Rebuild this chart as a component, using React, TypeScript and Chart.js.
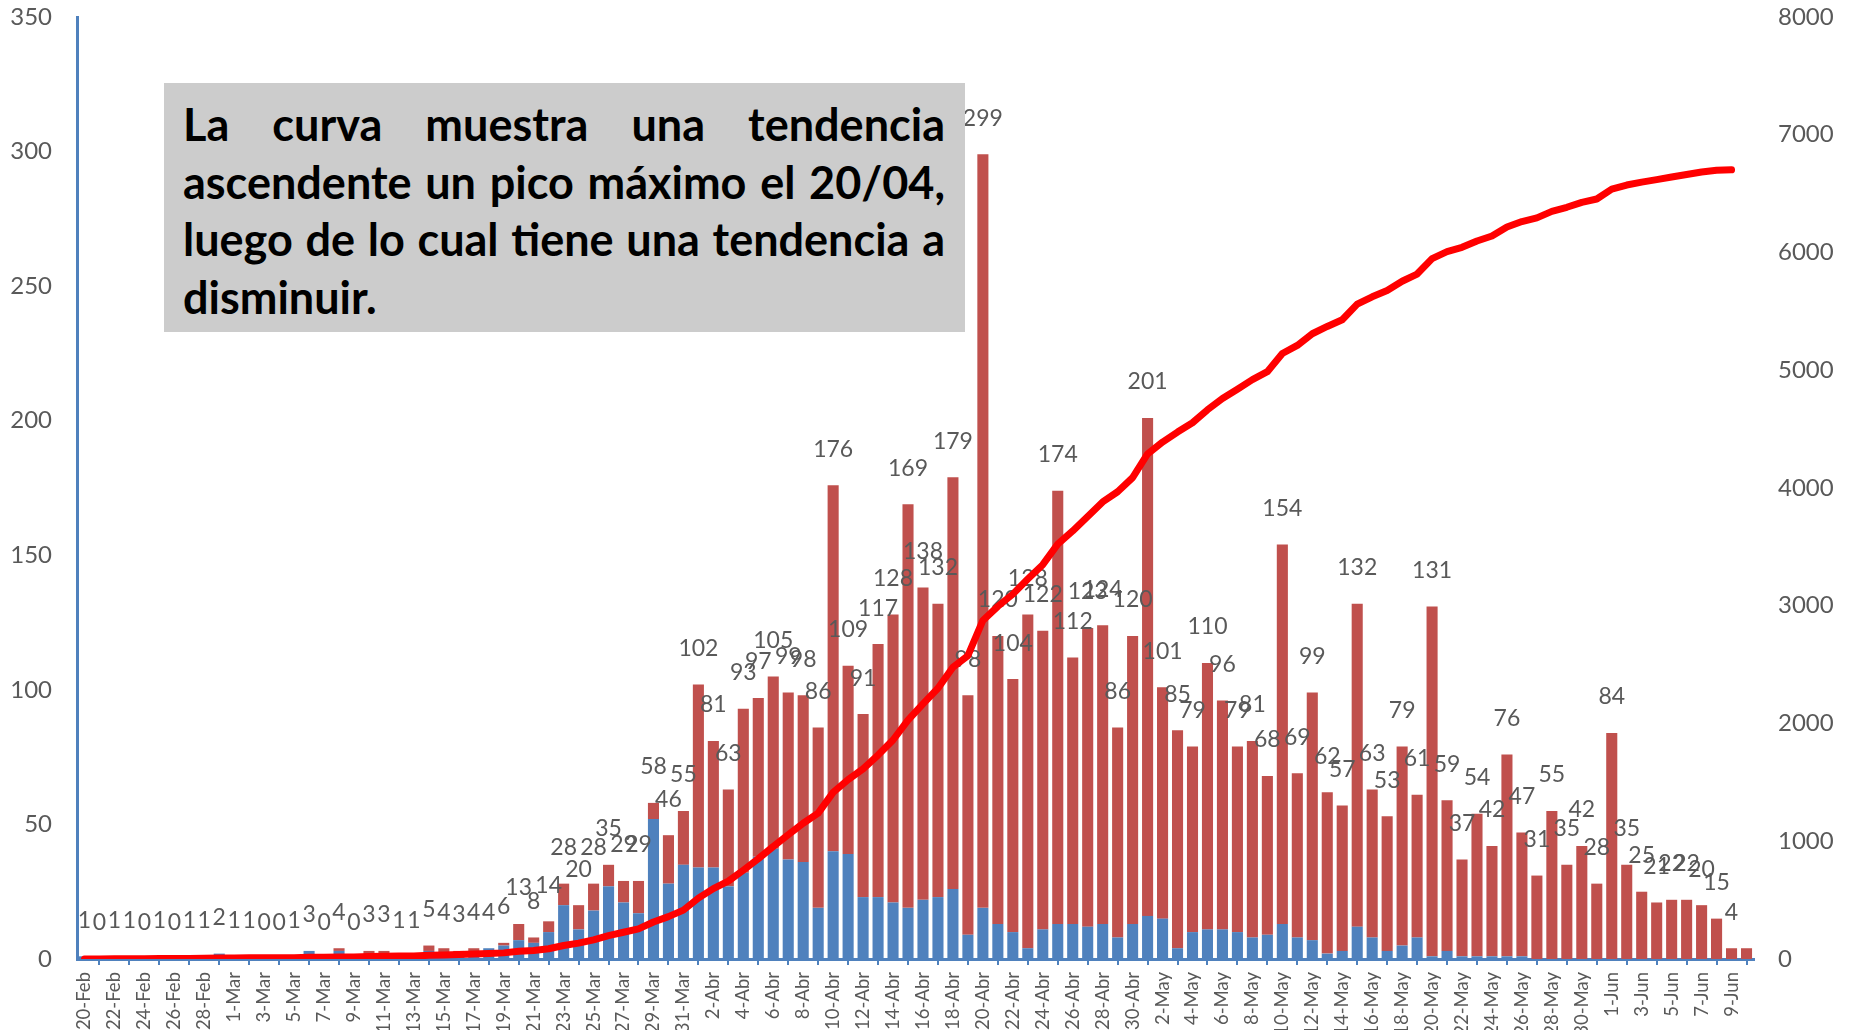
import React, { useEffect, useRef } from "react";
import { Chart, registerables } from "chart.js";

Chart.register(...registerables);

const categories = [
  "20-Feb","21-Feb","22-Feb","23-Feb","24-Feb","25-Feb","26-Feb","27-Feb","28-Feb","29-Feb",
  "1-Mar","2-Mar","3-Mar","4-Mar","5-Mar","6-Mar","7-Mar","8-Mar","9-Mar","10-Mar",
  "11-Mar","12-Mar","13-Mar","14-Mar","15-Mar","16-Mar","17-Mar","18-Mar","19-Mar","20-Mar",
  "21-Mar","22-Mar","23-Mar","24-Mar","25-Mar","26-Mar","27-Mar","28-Mar","29-Mar","30-Mar","31-Mar",
  "1-Abr","2-Abr","3-Abr","4-Abr","5-Abr","6-Abr","7-Abr","8-Abr","9-Abr","10-Abr",
  "11-Abr","12-Abr","13-Abr","14-Abr","15-Abr","16-Abr","17-Abr","18-Abr","19-Abr","20-Abr",
  "21-Abr","22-Abr","23-Abr","24-Abr","25-Abr","26-Abr","27-Abr","28-Abr","29-Abr","30-Abr",
  "1-May","2-May","3-May","4-May","5-May","6-May","7-May","8-May","9-May","10-May",
  "11-May","12-May","13-May","14-May","15-May","16-May","17-May","18-May","19-May","20-May",
  "21-May","22-May","23-May","24-May","25-May","26-May","27-May","28-May","29-May","30-May","31-May",
  "1-Jun","2-Jun","3-Jun","4-Jun","5-Jun","6-Jun","7-Jun","8-Jun","9-Jun","10-Jun",
];

// blue part of each bar
const serieAzul = [
  1,0,1,1,0,1,0,1,1,2,
  1,1,0,0,1,3,0,3,0,1,
  1,1,1,3,1,2,2,4,5,7,
  6,10,20,11,18,27,21,17,52,28,35,
  34,34,27,32,38,41,37,36,19,40,
  39,23,23,21,19,22,23,26,9,19,
  13,10,4,11,13,13,12,13,8,13,
  16,15,4,10,11,11,10,8,9,13,
  8,7,2,3,12,8,3,5,8,1,
  3,1,1,1,1,1,0,0,0,0,0,
  0,0,0,0,0,0,0,0,0,0,
];

// red part of each bar
const serieRoja = [
  0,0,0,0,0,0,0,0,0,0,
  0,0,0,0,0,0,0,1,0,2,
  2,0,0,2,3,1,2,0,1,6,
  2,4,8,9,10,8,8,12,6,18,20,
  68,47,36,61,59,64,62,62,67,136,
  70,68,94,107,150,116,109,153,89,280,
  107,94,124,111,161,99,111,111,78,107,
  185,86,81,69,99,85,69,73,59,141,
  61,92,60,54,120,55,50,74,53,130,
  56,36,53,41,75,46,31,55,35,42,28,
  84,35,25,21,22,22,20,15,4,4,
];

// total per day (labels above bars)
const totales = [
  1,0,1,1,0,1,0,1,1,2,
  1,1,0,0,1,3,0,4,0,3,
  3,1,1,5,4,3,4,4,6,13,
  8,14,28,20,28,35,29,29,58,46,55,
  102,81,63,93,97,105,99,98,86,176,
  109,91,117,128,169,138,132,179,98,299,
  120,104,128,122,174,112,123,124,86,120,
  201,101,85,79,110,96,79,81,68,154,
  69,99,62,57,132,63,53,79,61,131,
  59,37,54,42,76,47,31,55,35,42,28,
  84,35,25,21,22,22,20,15,4,4,
];

// cumulative curve (right axis)
const acumulado = [
  1,1,2,3,3,4,4,5,6,8,
  9,10,10,10,11,14,14,18,18,21,
  24,25,26,31,35,38,42,46,52,65,
  73,87,115,135,163,198,227,256,314,360,415,
  517,598,661,754,851,956,1055,1153,1239,1415,
  1524,1615,1732,1860,2029,2167,2299,2478,2576,2875,
  2995,3099,3227,3349,3523,3635,3758,3882,3968,4088,
  4289,4390,4475,4554,4664,4760,4839,4920,4988,5142,
  5211,5310,5372,5429,5561,5624,5677,5756,5817,5948,
  6007,6044,6098,6140,6216,6263,6294,6349,6384,6426,6454,
  6538,6573,6598,6619,6641,6663,6683,6698,6702,null,
];

const textoLineas = [
  "La curva muestra una tendencia",
  "ascendente un pico máximo el 20/04,",
  "luego de lo cual tiene una tendencia a",
  "disminuir.",
];

const W = 1852;
const H = 1120;
const PLOT_BOTTOM = 959;
const BLUE = "#4F81BD";
const RED = "#C0504D";
const GREY = "#595959";

const totalLabels = {
  id: "totalLabels",
  afterDatasetDraw(chart: any, args: any) {
    if (args.index !== 1) return;
    const { ctx } = chart;
    const xs = chart.scales.x;
    const ys = chart.scales.y;
    ctx.save();
    ctx.fillStyle = GREY;
    ctx.font = "23px Lato";
    ctx.textAlign = "center";
    ctx.textBaseline = "middle";
    for (let i = 0; i < totales.length - 1; i++) {
      const x = xs.getPixelForValue(i);
      const y = ys.getPixelForValue(totales[i]) - 36;
      ctx.fillText(String(totales[i]), x, y);
    }
    ctx.restore();
  },
};

export default function App() {
  const ref = useRef<HTMLCanvasElement>(null);

  useEffect(() => {
    if (!ref.current) return;
    const chart = new Chart(ref.current, {
      type: "bar",
      data: {
        labels: categories,
        datasets: [
          {
            type: "line",
            label: "Acumulado",
            data: acumulado as any,
            yAxisID: "y1",
            borderColor: "#FF0000",
            backgroundColor: "#FF0000",
            borderWidth: 7,
            pointRadius: 0,
            tension: 0,
            borderCapStyle: "round",
            borderJoinStyle: "round",
            order: 0,
          } as any,
          {
            type: "bar",
            label: "Serie 1",
            data: serieAzul,
            yAxisID: "y",
            backgroundColor: BLUE,
            barPercentage: 0.74,
            categoryPercentage: 1,
            order: 1,
          },
          {
            type: "bar",
            label: "Serie 2",
            data: serieRoja,
            yAxisID: "y",
            backgroundColor: RED,
            barPercentage: 0.74,
            categoryPercentage: 1,
            order: 2,
          },
        ],
      },
      options: {
        responsive: false,
        animation: false,
        devicePixelRatio: 1,
        layout: { padding: { top: 17, left: 0, right: 0, bottom: 0 } },
        plugins: {
          legend: { display: false },
          tooltip: { enabled: false },
        },
        scales: {
          x: {
            stacked: true,
            offset: true,
            grid: {
              display: true,
              drawOnChartArea: false,
              drawTicks: true,
              tickLength: 6,
              color: BLUE,
              lineWidth: 2,
              offset: true,
            },
            border: { display: true, color: BLUE, width: 3 },
            ticks: {
              autoSkip: false,
              maxRotation: 90,
              minRotation: 90,
              padding: 7,
              color: GREY,
              font: { family: "Lato", size: 18.5 },
              callback: (_v: any, index: number) =>
                index % 2 === 0 ? categories[index] : null,
            },
            afterFit: (s: any) => {
              s.height = H - PLOT_BOTTOM;
            },
          },
          y: {
            type: "linear",
            position: "left",
            stacked: true,
            min: 0,
            max: 350,
            grid: { display: false, drawTicks: true, tickLength: 25 },
            border: { display: true, color: BLUE, width: 3 },
            ticks: {
              stepSize: 50,
              padding: 0,
              color: GREY,
              font: { family: "Lato", size: 24 },
              callback: (v: any) => String(v),
            },
            afterFit: (s: any) => {
              s.width = 77;
            },
          },
          y1: {
            type: "linear",
            position: "right",
            min: 0,
            max: 8000,
            grid: { display: false, drawTicks: true, tickLength: 24 },
            border: { display: false },
            ticks: {
              stepSize: 1000,
              padding: 0,
              color: GREY,
              font: { family: "Lato", size: 24 },
              callback: (v: any) => String(v),
            },
            afterFit: (s: any) => {
              s.width = 98;
            },
          },
        },
      } as any,
      plugins: [totalLabels],
    });
    return () => chart.destroy();
  }, []);

  return (
    <div
      style={{
        position: "fixed",
        left: 0,
        top: 0,
        width: W,
        height: 1030,
        overflow: "hidden",
        background: "#ffffff",
      }}
    >
      <canvas ref={ref} width={W} height={H} style={{ display: "block" }} />
      <div
        style={{
          position: "absolute",
          left: 164,
          top: 83,
          width: 801,
          height: 249,
          background: "#CCCCCC",
          boxSizing: "border-box",
          padding: "13px 20px 0 19px",
          fontFamily: "Lato, sans-serif",
          fontWeight: 700,
          fontSize: 45,
          color: "#000000",
        }}
      >
        {textoLineas.map((ln, i) => (
          <div
            key={i}
            style={{
              display: "flex",
              justifyContent: i < textoLineas.length - 1 ? "space-between" : "flex-start",
              height: 57.5,
              lineHeight: "57.5px",
              whiteSpace: "nowrap",
            }}
          >
            {ln.split(" ").map((w, j) => (
              <span key={j}>{w}</span>
            ))}
          </div>
        ))}
      </div>
    </div>
  );
}
